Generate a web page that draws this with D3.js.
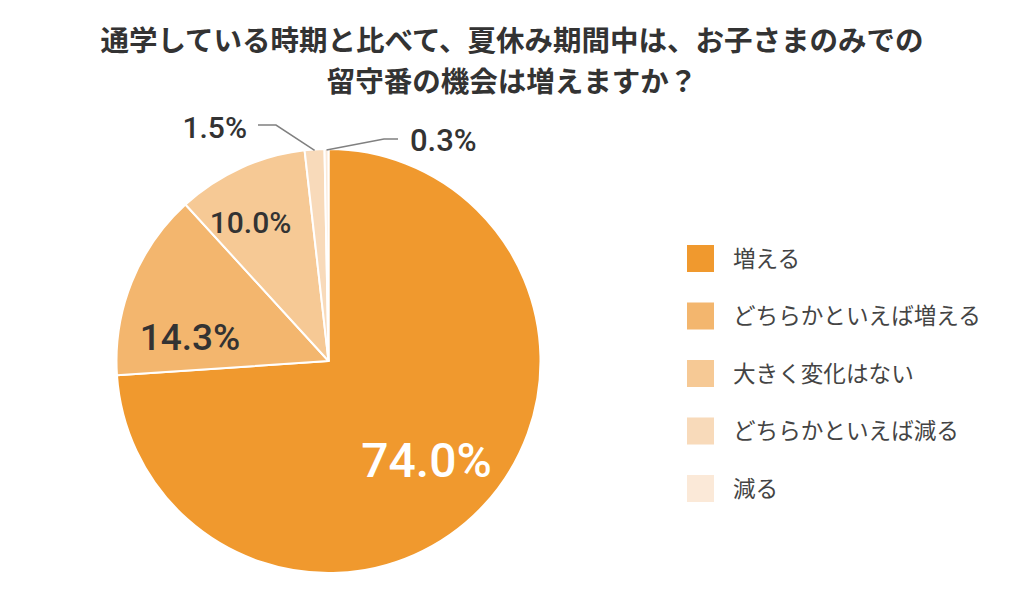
<!DOCTYPE html>
<html><head><meta charset="utf-8">
<script src="https://cdn.jsdelivr.net/npm/d3@7"></script>
<style>
html,body{margin:0;padding:0;background:#fff;}
svg{display:block;}
</style></head>
<body>
<svg id="chart" width="1024" height="593"></svg>
<script>
const titleLines = ["通学している時期と比べて、夏休み期間中は、お子さまのみでの", "留守番の機会は増えますか？"];
const categories = ["増える", "どちらかといえば増える", "大きく変化はない", "どちらかといえば減る", "減る"];
const values = [74.0, 14.3, 10.0, 1.5, 0.3];
const valueLabels = ["74.0%", "14.3%", "10.0%", "1.5%", "0.3%"];
const colors = ["#F0992E", "#F3B66E", "#F6C995", "#F8DABA", "#FBE9D8"];

const svg = d3.select("#chart");
const cx = 328.5, cy = 361, R = 212;
const jpFont = "'Noto Sans CJK JP', 'Noto Sans', sans-serif";
const numFont = "Roboto, 'Noto Sans', sans-serif";

// title
svg.append("g").selectAll("text").data(titleLines).join("text")
  .attr("x", 512).attr("y", (d, i) => 51 + i * 41)
  .attr("text-anchor", "middle")
  .style("font-family", jpFont).style("font-weight", 700)
  .style("font-size", "28.5px").style("fill", "#333")
  .text(d => d);

// pie
const data = categories.map((c, i) => ({cat: c, value: values[i], label: valueLabels[i], color: colors[i]}));
const pie = d3.pie().sort(null).value(d => d.value).startAngle(0).endAngle(2 * Math.PI);
const arc = d3.arc().innerRadius(0).outerRadius(R);
const arcs = pie(data);
const g = svg.append("g").attr("transform", `translate(${cx},${cy})`);
g.selectAll("path").data(arcs).join("path")
  .attr("d", arc).attr("fill", d => d.data.color)
  .attr("stroke", "#fff").attr("stroke-width", 2).attr("stroke-linejoin", "round");

// value labels (layout positions)
const labelLayout = [
  {x: 426.5, y: 477, anchor: "middle", size: 48, fill: "#fff"},
  {x: 190, y: 350, anchor: "middle", size: 37, fill: "#333"},
  {x: 250.5, y: 233, anchor: "middle", size: 30, fill: "#333"},
  {x: 247, y: 138, anchor: "end", size: 30, fill: "#333"},
  {x: 410, y: 151, anchor: "start", size: 31, fill: "#333"}
];
svg.append("g").selectAll("text").data(arcs).join("text")
  .attr("x", (d, i) => labelLayout[i].x)
  .attr("y", (d, i) => labelLayout[i].y)
  .attr("text-anchor", (d, i) => labelLayout[i].anchor)
  .style("font-family", numFont).style("font-weight", 500)
  .style("font-size", (d, i) => labelLayout[i].size + "px")
  .style("fill", (d, i) => labelLayout[i].fill)
  .text(d => d.data.label);

// leader lines for small slices
const leaders = [
  {i: 3, pts: [[258, 125], [276, 125]]},
  {i: 4, pts: [[398, 139], [384, 139]]}
];
leaders.forEach(l => {
  const a = arcs[l.i];
  const mid = (a.startAngle + a.endAngle) / 2;
  const ex = cx + Math.sin(mid) * (R - 1), ey = cy - Math.cos(mid) * (R - 1);
  svg.append("path")
    .attr("d", d3.line()([...l.pts, [ex, ey]]))
    .attr("fill", "none").attr("stroke", "#808080").attr("stroke-width", 1.5);
});

// legend
const legend = svg.append("g").attr("transform", "translate(687,245)");
const li = legend.selectAll("g").data(data).join("g")
  .attr("transform", (d, i) => `translate(0,${i * 57.5})`);
li.append("rect").attr("width", 27).attr("height", 27).attr("fill", d => d.color);
li.append("text").attr("x", 46).attr("y", 21.5)
  .style("font-family", jpFont).style("font-size", "22.6px").style("fill", "#444")
  .text(d => d.cat);
</script>
</body></html>
